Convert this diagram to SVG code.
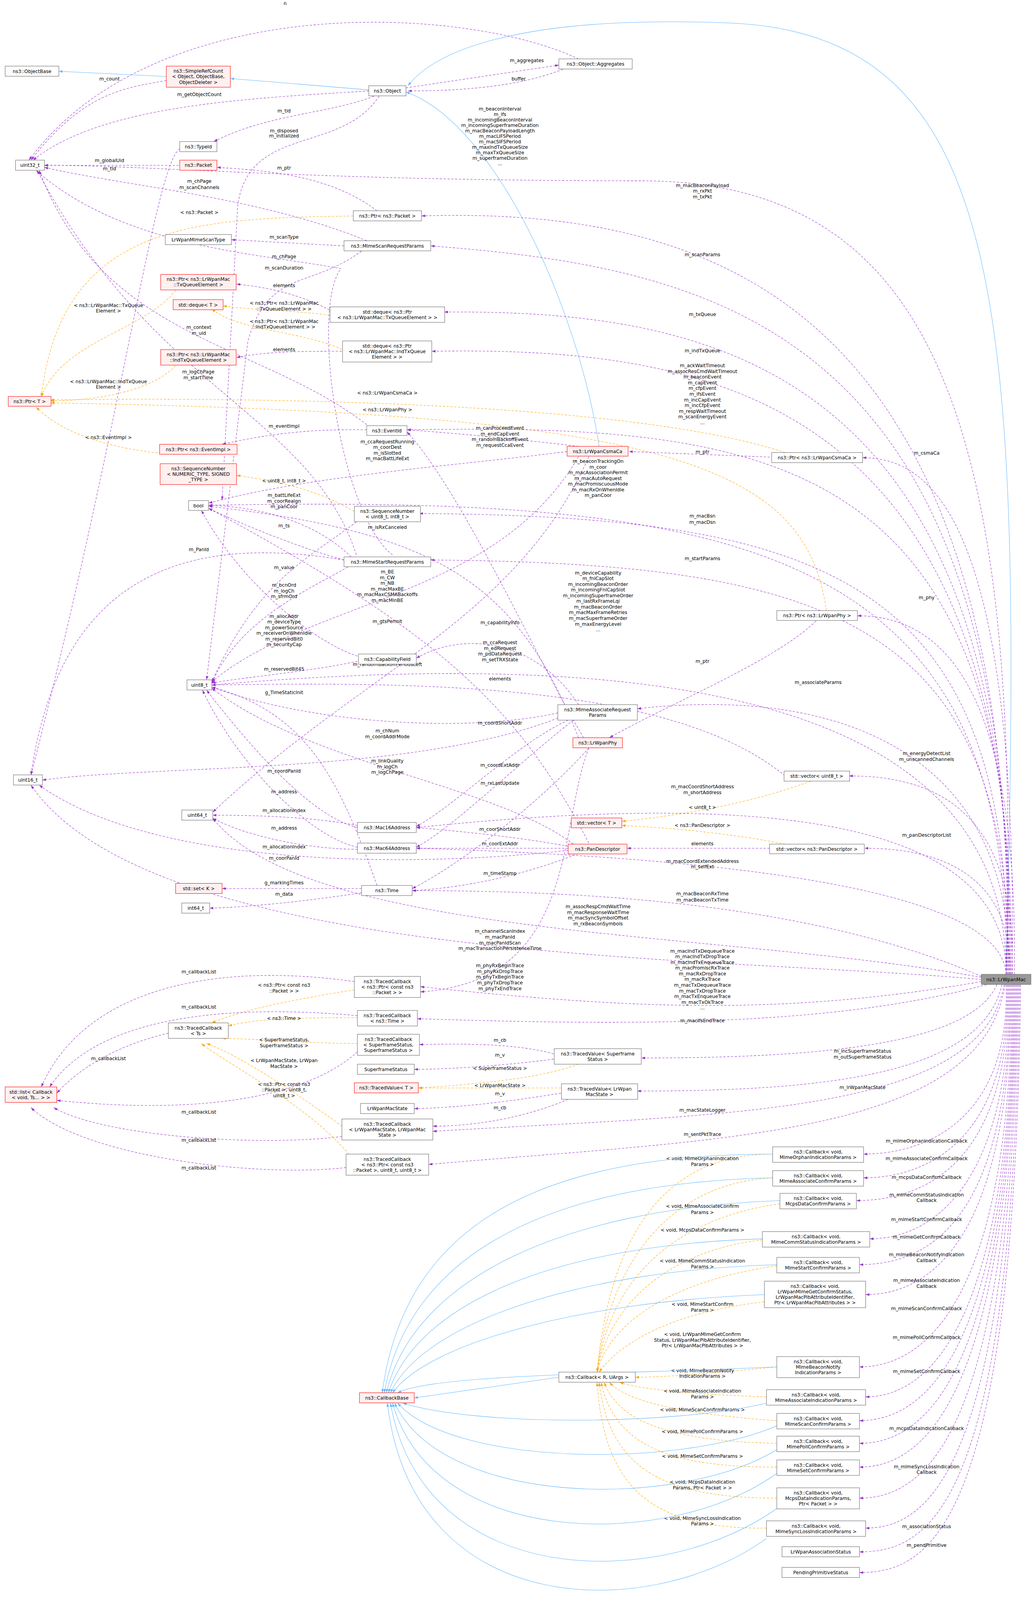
<svg xmlns="http://www.w3.org/2000/svg" width="2645" height="4147" viewBox="0 0 2645 4147">
<style>
text{font-family:"DejaVu Sans","Liberation Sans",sans-serif;font-size:4.6px;fill:#000}
.nt{text-anchor:middle}
.l{text-anchor:middle}
rect.n{fill:#fff;stroke:#666;stroke-width:0.4}
rect.r{fill:#fff0f0;stroke:#f00;stroke-width:0.4}
rect.g{fill:#999;stroke:#666;stroke-width:0.4}
path.e{fill:none;stroke:#9a32cd;stroke-width:0.4;stroke-dasharray:2.2,1.5;marker-end:url(#mp)}
path.o{fill:none;stroke:#ffa500;stroke-width:0.4;stroke-dasharray:2.2,1.5;marker-end:url(#mo)}
path.b{fill:none;stroke:#63b8ff;stroke-width:0.4;marker-end:url(#mb)}
</style>
<defs>
<marker id="mp" viewBox="0 0 10 7" refX="10" refY="3.5" markerWidth="3.6" markerHeight="2.6" markerUnits="userSpaceOnUse" orient="auto"><path d="M0,0L10,3.5L0,7z" fill="#9a32cd"/></marker>
<marker id="mo" viewBox="0 0 10 7" refX="10" refY="3.5" markerWidth="3.6" markerHeight="2.6" markerUnits="userSpaceOnUse" orient="auto"><path d="M0,0L10,3.5L0,7z" fill="#ffa500"/></marker>
<marker id="mb" viewBox="0 0 10 7" refX="10" refY="3.5" markerWidth="3.6" markerHeight="2.6" markerUnits="userSpaceOnUse" orient="auto"><path d="M0,0L10,3.5L0,7z" fill="#63b8ff"/></marker>
</defs>
<rect width="2645" height="4147" fill="#fff"/>
<g transform="scale(2.645)">
<g id="edges">
<path class="b" d="M161,74 L57,69"/>
<path class="b" d="M357,87 L223,76"/>
<path class="b" d="M974,943 C990,300 980,30 700,22 C500,15 420,50 395,83"/>
<path class="b" d="M580,432 C560,300 480,120 393,89"/>
<path class="e" d="M393,85 L541,63"/><text class="l" x="510" y="60">m_aggregates</text>
<path class="e" d="M545,67 C500,85 440,88 395,88"/><text class="l" x="502" y="78">buffer</text>
<path class="e" d="M560,57 C450,5 150,-10 28,155"/><text class="l" x="276" y="5">n</text>
<path class="e" d="M161,78 C120,85 80,90 30,155"/><text class="l" x="106" y="78">m_count</text>
<path class="e" d="M357,88 C250,95 100,100 32,155"/><text class="l" x="193" y="93">m_getObjectCount</text>
<path class="e" d="M362,93 C320,110 260,110 207,137"/><text class="l" x="275" y="109">m_tid</text>
<path class="e" d="M367,93 C330,150 240,120 230,200 L215,484"/><text class="l" x="275" y="128">m_disposed</text><text class="l" x="275" y="133">m_initialized</text>
<path class="e" d="M173,160 L43,160"/><text class="l" x="106" y="157">m_globalUid</text>
<path class="e" d="M174,144 C150,160 120,400 30,750"/><text class="l" x="106" y="165">m_tid</text>
<path class="e" d="M365,204 C320,170 260,165 210,162"/><text class="l" x="275" y="164">m_ptr</text>
<path class="o" d="M342,209 C200,212 60,210 40,384"/><text class="l" x="193" y="207">&lt; ns3::Packet &gt;</text>
<path class="e" d="M355,233 C250,190 120,180 43,162"/><text class="l" x="193" y="177">m_chPage</text><text class="l" x="193" y="183">m_scanChannels</text>
<path class="e" d="M333,238 L224,232"/><text class="l" x="275" y="231">m_scanType</text>
<path class="e" d="M350,243 C300,280 260,260 240,330 L200,658"/><text class="l" x="275" y="261">m_scanDuration</text>
<path class="e" d="M380,537 C330,500 300,300 330,260 C250,245 120,240 35,165"/><text class="l" x="275" y="250">m_chPage</text>
<path class="o" d="M170,281 C140,320 60,330 40,384"/><text class="l" x="105" y="297">&lt; ns3::LrWpanMac::TxQueue</text><text class="l" x="105" y="302.6">Element &gt;</text>
<path class="e" d="M319,300 C290,285 260,278 229,275"/><text class="l" x="275" y="278">elements</text>
<path class="o" d="M319,305 C280,300 240,300 216,296"/><text class="l" x="275" y="295">&lt; ns3::Ptr&lt; ns3::LrWpanMac</text><text class="l" x="275" y="300.6">::TxQueueElement &gt; &gt;</text>
<path class="e" d="M331,340 C290,340 260,340 229,346"/><text class="l" x="275" y="340">elements</text>
<path class="o" d="M331,338 C290,320 230,320 205,299"/><text class="l" x="275" y="312.5">&lt; ns3::Ptr&lt; ns3::LrWpanMac</text><text class="l" x="275" y="318">::IndTxQueueElement &gt; &gt;</text>
<path class="o" d="M170,354 C140,385 70,388 49,388"/><text class="l" x="105" y="370.7">&lt; ns3::LrWpanMac::IndTxQueue</text><text class="l" x="105" y="376.3">Element &gt;</text>
<path class="o" d="M160,439 C110,435 60,420 35,394"/><text class="l" x="105" y="425">&lt; ns3::EventImpl &gt;</text>
<path class="o" d="M760,438 C600,385 200,385 49,387"/><text class="l" x="375" y="382">&lt; ns3::LrWpanCsmaCa &gt;</text>
<path class="o" d="M800,591 C780,450 650,400 49,390"/><text class="l" x="375" y="398">&lt; ns3::LrWpanPhy &gt;</text>
<path class="e" d="M355,416 C300,415 260,420 215,430"/><text class="l" x="275" y="414">m_eventImpl</text>
<path class="e" d="M355,411 C250,330 100,330 38,165"/><text class="l" x="192.5" y="318.5">m_context</text><text class="l" x="192.5" y="324">m_uid</text>
<path class="e" d="M760,443 L609,437"/><text class="l" x="680" y="439">m_ptr</text>
<path class="e" d="M560,432 C500,425 450,420 394,416"/><text class="l" x="484" y="416">m_canProceedEvent</text><text class="l" x="484" y="421.5">m_endCapEvent</text><text class="l" x="484" y="427">m_randomBackoffEvent</text><text class="l" x="484" y="432.5">m_requestCcaEvent</text>
<path class="e" d="M549,437 C450,450 300,460 202,487"/><text class="l" x="375" y="429">m_ccaRequestRunning</text><text class="l" x="375" y="434.5">m_coorDest</text><text class="l" x="375" y="440">m_isSlotted</text><text class="l" x="375" y="445.5">m_macBattLifeExt</text>
<path class="e" d="M560,442 C480,580 300,580 205,660"/><text class="l" x="375" y="555">m_BE</text><text class="l" x="375" y="560.5">m_CW</text><text class="l" x="375" y="566">m_NB</text><text class="l" x="375" y="571.5">m_macMaxBE</text><text class="l" x="375" y="577">m_macMaxCSMABackoffs</text><text class="l" x="375" y="582.5">m_macMinBE</text>
<path class="e" d="M570,442 C500,600 350,650 206,786"/><text class="l" x="375" y="644.5">m_randomBackoffPeriodsLeft</text>
<path class="o" d="M343,495 C300,470 260,465 229,460"/><text class="l" x="275" y="467">&lt; uint8_t, int8_t &gt;</text>
<path class="e" d="M345,505 C300,540 250,560 205,660"/><text class="l" x="275" y="551">m_value</text>
<path class="e" d="M340,539 C300,500 240,490 202,489"/><text class="l" x="275" y="481">m_battLifeExt</text><text class="l" x="275" y="486.5">m_coorRealgn</text><text class="l" x="275" y="492">m_panCoor</text>
<path class="e" d="M340,547 C300,570 230,600 205,662"/><text class="l" x="275" y="568">m_bcnOrd</text><text class="l" x="275" y="573.5">m_logCh</text><text class="l" x="275" y="579">m_sfrmOrd</text>
<path class="e" d="M333,542 C200,520 60,540 30,750"/><text class="l" x="192.5" y="533.5">m_PanId</text>
<path class="e" d="M345,537 C300,400 150,380 36,165"/><text class="l" x="192" y="361.5">m_logChPage</text><text class="l" x="192" y="367">m_startTime</text>
<path class="e" d="M333,542 C290,530 240,510 202,492"/><text class="l" x="275" y="510.5">m_ts</text>
<path class="e" d="M560,714 C500,560 420,515 202,490"/><text class="l" x="375" y="512">m_isRxCanceled</text>
<path class="e" d="M570,816 C500,680 420,610 202,492"/><text class="l" x="375" y="603">m_gtsPermit</text>
<path class="e" d="M346,635 C300,620 230,560 195,494"/><text class="l" x="275" y="598">m_allocAddr</text><text class="l" x="275" y="603.5">m_deviceType</text><text class="l" x="275" y="609">m_powerSource</text><text class="l" x="275" y="614.5">m_receiverOnWhenIdle</text><text class="l" x="275" y="620">m_reservedBit0</text><text class="l" x="275" y="625.5">m_securityCap</text>
<path class="e" d="M346,640 C300,650 240,655 205,661"/><text class="l" x="275" y="649">m_reservedBit45</text>
<path class="e" d="M365,857 C330,760 300,690 205,665"/><text class="l" x="275" y="672">g_TimeStaticInit</text>
<path class="e" d="M560,682 C520,620 450,610 403,637"/><text class="l" x="484" y="604">m_capabilityInfo</text>
<path class="e" d="M565,714 C520,640 450,480 394,418"/><text class="l" x="484" y="623.5">m_ccaRequest</text><text class="l" x="484" y="629">m_edRequest</text><text class="l" x="484" y="634.5">m_pdDataRequest</text><text class="l" x="484" y="640">m_setTRXState</text>
<path class="e" d="M760,751 C650,660 400,660 205,663"/><text class="l" x="484" y="658.5">elements</text>
<path class="e" d="M540,690 C450,710 300,700 205,665"/><text class="l" x="375" y="709">m_chNum</text><text class="l" x="375" y="714.5">m_coordAddrMode</text>
<path class="e" d="M555,817 C480,760 300,740 205,666"/><text class="l" x="375" y="738">m_linkQuality</text><text class="l" x="375" y="743.5">m_logCh</text><text class="l" x="375" y="749">m_logChPage</text>
<path class="e" d="M550,697 C500,720 440,780 403,800"/><text class="l" x="484" y="701.5">m_coordShortAddr</text>
<path class="e" d="M555,697 C500,740 440,800 403,820"/><text class="l" x="484" y="742">m_coordExtAddr</text>
<path class="e" d="M570,724 C520,780 440,840 399,860"/><text class="l" x="484" y="759.5">m_rxLastUpdate</text>
<path class="e" d="M540,695 C400,750 150,740 41,755"/><text class="l" x="275" y="748">m_coordPanId</text>
<path class="e" d="M790,601 C750,640 650,680 590,714"/><text class="l" x="680" y="641.5">m_ptr</text>
<path class="o" d="M785,756 C720,780 650,790 602,795"/><text class="l" x="680" y="783">&lt; uint8_t &gt;</text>
<path class="o" d="M760,817 C700,805 630,800 602,799"/><text class="l" x="680" y="800.5">&lt; ns3::PanDescriptor &gt;</text>
<path class="e" d="M745,821 L607,821"/><text class="l" x="680" y="818">elements</text>
<path class="e" d="M346,801 C300,790 240,720 200,668"/><text class="l" x="275" y="768">m_address</text>
<path class="e" d="M346,799 C300,790 240,789 206,789"/><text class="l" x="275" y="786">m_allocationIndex</text>
<path class="e" d="M346,820 C300,810 230,740 196,668"/><text class="l" x="275" y="803">m_address</text>
<path class="e" d="M346,822 C300,822 240,810 206,792"/><text class="l" x="275" y="821">m_allocationIndex</text>
<path class="e" d="M550,819 C500,810 450,805 403,801"/><text class="l" x="484" y="804">m_coorShortAddr</text>
<path class="e" d="M550,821 L403,821"/><text class="l" x="484" y="818">m_coorExtAddr</text>
<path class="e" d="M550,823 C400,840 150,840 38,760"/><text class="l" x="275" y="832">m_coorPanId</text>
<path class="e" d="M560,826 C500,850 440,860 399,862"/><text class="l" x="484" y="847">m_timeStamp</text>
<path class="e" d="M350,860 L215,860"/><text class="l" x="275" y="856">g_markingTimes</text>
<path class="e" d="M350,864 C300,872 240,878 203,879"/><text class="l" x="275" y="867">m_data</text>
<path class="e" d="M974,943 C990,400 900,175 620,175 C300,175 150,160 43,160"/><text class="l" x="484" y="107">m_beaconInterval</text><text class="l" x="484" y="112.3">m_ifs</text><text class="l" x="484" y="117.6">m_incomingBeaconInterval</text><text class="l" x="484" y="122.9">m_incomingSuperframeDuration</text><text class="l" x="484" y="128.2">m_macBeaconPayloadLength</text><text class="l" x="484" y="133.5">m_macLIFSPeriod</text><text class="l" x="484" y="138.8">m_macSIFSPeriod</text><text class="l" x="484" y="144.1">m_maxIndTxQueueSize</text><text class="l" x="484" y="149.4">m_maxTxQueueSize</text><text class="l" x="484" y="154.7">m_superframeDuration</text><text class="l" x="484" y="160">...</text>
<path class="e" d="M975,943 C985,300 700,200 408,209"/><text class="l" x="680" y="181">m_macBeaconPayload</text><text class="l" x="680" y="186.5">m_rxPkt</text><text class="l" x="680" y="192">m_txPkt</text>
<path class="e" d="M976,943 C985,320 700,260 417,238"/><text class="l" x="680" y="248">m_scanParams</text>
<path class="e" d="M977,943 C985,360 700,300 430,302"/><text class="l" x="680" y="306">m_txQueue</text>
<path class="e" d="M978,943 C985,390 700,335 418,340"/><text class="l" x="680" y="341">m_indTxQueue</text>
<path class="e" d="M979,943 C985,440 750,410 394,416"/><text class="l" x="680" y="355.5">m_ackWaitTimeout</text><text class="l" x="680" y="361">m_assocResCmdWaitTimeout</text><text class="l" x="680" y="366.5">m_beaconEvent</text><text class="l" x="680" y="372">m_capEvent</text><text class="l" x="680" y="377.5">m_cfpEvent</text><text class="l" x="680" y="383">m_ifsEvent</text><text class="l" x="680" y="388.5">m_incCapEvent</text><text class="l" x="680" y="394">m_incCfpEvent</text><text class="l" x="680" y="399.5">m_respWaitTimeout</text><text class="l" x="680" y="405">m_scanEnergyEvent</text><text class="l" x="680" y="410.5">...</text>
<path class="e" d="M980,943 C985,500 900,443 835,443"/><text class="l" x="897" y="440">m_csmaCa</text>
<path class="e" d="M974,943 C980,520 700,480 202,489"/><text class="l" x="579" y="448">m_beaconTrackingOn</text><text class="l" x="579" y="453.5">m_coor</text><text class="l" x="579" y="459">m_macAssociationPermit</text><text class="l" x="579" y="464.5">m_macAutoRequest</text><text class="l" x="579" y="470">m_macPromiscuousMode</text><text class="l" x="579" y="475.5">m_macRxOnWhenIdle</text><text class="l" x="579" y="481">m_panCoor</text>
<path class="e" d="M975,943 C980,560 800,500 406,497"/><text class="l" x="680" y="501">m_macBsn</text><text class="l" x="680" y="507">m_macDsn</text>
<path class="e" d="M976,943 C980,600 800,545 417,542"/><text class="l" x="680" y="542">m_startParams</text>
<path class="e" d="M982,943 C985,700 930,596 830,596"/><text class="l" x="897" y="580">m_phy</text>
<path class="e" d="M974,943 C975,700 700,620 205,663"/><text class="l" x="579" y="556">m_deviceCapability</text><text class="l" x="579" y="561.5">m_fnlCapSlot</text><text class="l" x="579" y="567">m_incomingBeaconOrder</text><text class="l" x="579" y="572.5">m_incomingFnlCapSlot</text><text class="l" x="579" y="578">m_incomingSuperframeOrder</text><text class="l" x="579" y="583.5">m_lastRxFrameLqi</text><text class="l" x="579" y="589">m_macBeaconOrder</text><text class="l" x="579" y="594.5">m_macMaxFrameRetries</text><text class="l" x="579" y="600">m_macSuperframeOrder</text><text class="l" x="579" y="605.5">m_maxEnergyLevel</text><text class="l" x="579" y="611">...</text>
<path class="e" d="M977,943 C980,720 800,665 617,686"/><text class="l" x="792" y="662">m_associateParams</text>
<path class="e" d="M980,943 C985,780 900,751 822,751"/><text class="l" x="897" y="730.7">m_energyDetectList</text><text class="l" x="897" y="736.3">m_unscannedChannels</text>
<path class="e" d="M974,943 C975,780 700,770 403,801"/><text class="l" x="680" y="763">m_macCoordShortAddress</text><text class="l" x="680" y="768.6">m_shortAddress</text>
<path class="e" d="M978,943 C980,840 900,821 837,821"/><text class="l" x="897" y="810">m_panDescriptorList</text>
<path class="e" d="M974,943 C970,860 700,830 403,821"/><text class="l" x="680" y="835">m_macCoordExtendedAddress</text><text class="l" x="680" y="840.5">m_selfExt</text>
<path class="e" d="M950,945 C800,880 600,862 399,862"/><text class="l" x="680" y="866.7">m_macBeaconRxTime</text><text class="l" x="680" y="872.5">m_macBeaconTxTime</text>
<path class="e" d="M950,946 C700,900 300,910 206,792"/><text class="l" x="579" y="879">m_assocRespCmdWaitTime</text><text class="l" x="579" y="884.5">m_macResponseWaitTime</text><text class="l" x="579" y="890">m_macSyncSymbolOffset</text><text class="l" x="579" y="895.5">m_rxBeaconSymbols</text>
<path class="e" d="M950,948 C700,925 150,935 30,760"/><text class="l" x="484" y="903">m_channelScanIndex</text><text class="l" x="484" y="908.5">m_macPanId</text><text class="l" x="484" y="914">m_macPanIdScan</text><text class="l" x="484" y="919.5">m_macTransactionPersistenceTime</text>
<path class="e" d="M570,724 C540,800 560,950 407,960"/><text class="l" x="484" y="936">m_phyRxBeginTrace</text><text class="l" x="484" y="941.6">m_phyRxDropTrace</text><text class="l" x="484" y="947.2">m_phyTxBeginTrace</text><text class="l" x="484" y="952.8">m_phyTxDropTrace</text><text class="l" x="484" y="958.4">m_phyTxEndTrace</text>
<path class="e" d="M950,950 C750,985 600,975 407,955"/><text class="l" x="680" y="922">m_macIndTxDequeueTrace</text><text class="l" x="680" y="927.5">m_macIndTxDropTrace</text><text class="l" x="680" y="933">m_macIndTxEnqueueTrace</text><text class="l" x="680" y="938.5">m_macPromiscRxTrace</text><text class="l" x="680" y="944">m_macRxDropTrace</text><text class="l" x="680" y="949.5">m_macRxTrace</text><text class="l" x="680" y="955">m_macTxDequeueTrace</text><text class="l" x="680" y="960.5">m_macTxDropTrace</text><text class="l" x="680" y="966">m_macTxEnqueueTrace</text><text class="l" x="680" y="971.5">m_macTxOkTrace</text><text class="l" x="680" y="977">...</text>
<path class="e" d="M955,953 C800,995 600,992 404,986"/><text class="l" x="680" y="989.5">m_macIfsEndTrace</text>
<path class="e" d="M965,953 C940,1010 800,1024 621,1024"/><text class="l" x="835" y="1019">m_incSuperframeStatus</text><text class="l" x="835" y="1024.5">m_outSuperframeStatus</text>
<path class="e" d="M970,953 C950,1040 800,1056 617,1056"/><text class="l" x="835" y="1054">m_lrWpanMacState</text>
<path class="e" d="M972,953 C950,1080 700,1078 419,1095"/><text class="l" x="680" y="1076">m_macStateLogger</text>
<path class="e" d="M973,953 C950,1100 700,1102 415,1127"/><text class="l" x="680" y="1099.5">m_sentPktTrace</text>
<path class="e" d="M974,953 C978,1080 900,1117 836,1117"/><text class="l" x="897" y="1106">m_mlmeOrphanIndicationCallback</text>
<path class="e" d="M975,953 C978,1100 900,1140 836,1140"/><text class="l" x="897" y="1123">m_mlmeAssociateConfirmCallback</text>
<path class="e" d="M976,953 C978,1120 900,1162 829,1162"/><text class="l" x="897" y="1141">m_mcpsDataConfirmCallback</text>
<path class="e" d="M977,953 C978,1150 900,1199 842,1199"/><text class="l" x="897" y="1158">m_mlmeCommStatusIndication</text><text class="l" x="897" y="1163.5">Callback</text>
<path class="e" d="M978,953 C978,1180 900,1224 832,1224"/><text class="l" x="897" y="1182">m_mlmeStartConfirmCallback</text>
<path class="e" d="M979,953 C978,1200 900,1253 838,1253"/><text class="l" x="897" y="1199">m_mlmeGetConfirmCallback</text>
<path class="e" d="M980,953 C978,1250 900,1323 832,1323"/><text class="l" x="897" y="1216">m_mlmeBeaconNotifyIndication</text><text class="l" x="897" y="1221.5">Callback</text>
<path class="e" d="M981,953 C978,1280 900,1352 838,1352"/><text class="l" x="897" y="1241">m_mlmeAssociateIndication</text><text class="l" x="897" y="1246.5">Callback</text>
<path class="e" d="M982,953 C978,1300 900,1375 832,1375"/><text class="l" x="897" y="1268">m_mlmeScanConfirmCallback</text>
<path class="e" d="M983,953 C978,1320 900,1397 832,1397"/><text class="l" x="897" y="1296">m_mlmePollConfirmCallback</text>
<path class="e" d="M984,953 C978,1340 900,1420 832,1420"/><text class="l" x="897" y="1329">m_mlmeSetConfirmCallback</text>
<path class="e" d="M985,953 C978,1380 900,1450 832,1450"/><text class="l" x="897" y="1384">m_mcpsDataIndicationCallback</text>
<path class="e" d="M986,953 C978,1420 900,1479 838,1479"/><text class="l" x="897" y="1421">m_mlmeSyncLossIndication</text><text class="l" x="897" y="1426.5">Callback</text>
<path class="e" d="M987,953 C980,1460 900,1502 832,1502"/><text class="l" x="897" y="1479">m_associationStatus</text>
<path class="e" d="M988,953 C982,1480 900,1522 832,1522"/><text class="l" x="897" y="1497">m_pendPrimitive</text>
<path class="o" d="M343,958 C300,965 240,975 205,990"/><text class="l" x="275" y="955">&lt; ns3::Ptr&lt; const ns3</text><text class="l" x="275" y="960.5">::Packet &gt; &gt;</text>
<path class="e" d="M343,950 C200,930 80,960 40,1052"/><text class="l" x="192.5" y="942">m_callbackList</text>
<path class="o" d="M346,985 C300,985 250,985 221,993"/><text class="l" x="275" y="987">&lt; ns3::Time &gt;</text>
<path class="e" d="M346,983 C200,970 90,990 48,1052"/><text class="l" x="192.5" y="976">m_callbackList</text>
<path class="e" d="M163,1000 C120,1010 80,1030 55,1058"/><text class="l" x="105" y="1026">m_callbackList</text>
<path class="o" d="M346,1010 C300,1010 240,1005 215,1005"/><text class="l" x="275" y="1008">&lt; SuperframeStatus,</text><text class="l" x="275" y="1013.5">SuperframeStatus &gt;</text>
<path class="e" d="M346,1018 C300,1060 200,1080 55,1065"/><text class="l" x="192.5" y="1078">m_callbackList</text>
<path class="e" d="M536,1020 C500,1010 450,1010 406,1011"/><text class="l" x="484" y="1008.5">m_cb</text>
<path class="e" d="M536,1025 C500,1030 440,1035 401,1035"/><text class="l" x="484" y="1022.6">m_v</text>
<path class="o" d="M560,1030 C520,1045 450,1050 405,1053"/><text class="l" x="484" y="1035.7">&lt; SuperframeStatus &gt;</text>
<path class="o" d="M543,1053 C500,1053 450,1053 405,1053"/><text class="l" x="484" y="1052.2">&lt; LrWpanMacState &gt;</text>
<path class="e" d="M543,1058 C500,1065 450,1072 401,1073"/><text class="l" x="484" y="1060.3">m_v</text>
<path class="e" d="M550,1064 C500,1085 450,1090 419,1090"/><text class="l" x="484" y="1073.8">m_cb</text>
<path class="o" d="M331,1090 C290,1060 230,1020 200,1010"/><text class="l" x="275" y="1028">&lt; LrWpanMacState, LrWpan</text><text class="l" x="275" y="1033.5">MacState &gt;</text>
<path class="e" d="M331,1100 C250,1110 100,1100 52,1072"/><text class="l" x="192.5" y="1105">m_callbackList</text>
<path class="o" d="M340,1120 C300,1070 220,1030 195,1010"/><text class="l" x="275" y="1051">&lt; ns3::Ptr&lt; const ns3</text><text class="l" x="275" y="1056.5">::Packet &gt;, uint8_t,</text><text class="l" x="275" y="1062">uint8_t &gt;</text>
<path class="e" d="M335,1130 C250,1140 80,1120 30,1072"/><text class="l" x="192.5" y="1132">m_callbackList</text>
<path class="o" d="M748,1117 C640,1117 590,1200 578,1328"/><text class="l" x="680" y="1123">&lt; void, MlmeOrphanIndication</text><text class="l" x="680" y="1128.5">Params &gt;</text>
<path class="o" d="M748,1140 C650,1145 590,1220 578,1328"/><text class="l" x="680" y="1169">&lt; void, MlmeAssociateConfirm</text><text class="l" x="680" y="1175">Params &gt;</text>
<path class="o" d="M755,1165 C650,1180 590,1240 578,1328"/><text class="l" x="680" y="1192">&lt; void, McpsDataConfirmParams &gt;</text>
<path class="o" d="M738,1200 C650,1210 590,1260 578,1328"/><text class="l" x="680" y="1222">&lt; void, MlmeCommStatusIndication</text><text class="l" x="680" y="1227.7">Params &gt;</text>
<path class="o" d="M752,1225 C650,1240 590,1280 578,1328"/><text class="l" x="680" y="1264">&lt; void, MlmeStartConfirm</text><text class="l" x="680" y="1269.5">Params &gt;</text>
<path class="o" d="M740,1260 C650,1270 600,1300 580,1328"/><text class="l" x="680" y="1293">&lt; void, LrWpanMlmeGetConfirm</text><text class="l" x="680" y="1298.5">Status, LrWpanMacPibAttributeIdentifier,</text><text class="l" x="680" y="1304">Ptr&lt; LrWpanMacPibAttributes &gt; &gt;</text>
<path class="o" d="M752,1323 C680,1330 640,1333 615,1333"/><text class="l" x="680" y="1328">&lt; void, MlmeBeaconNotify</text><text class="l" x="680" y="1333.5">IndicationParams &gt;</text>
<path class="o" d="M742,1352 C680,1350 620,1345 600,1338"/><text class="l" x="680" y="1348">&lt; void, MlmeAssociateIndication</text><text class="l" x="680" y="1353.5">Params &gt;</text>
<path class="o" d="M752,1375 C680,1370 610,1360 590,1338"/><text class="l" x="680" y="1366">&lt; void, MlmeScanConfirmParams &gt;</text>
<path class="o" d="M752,1397 C660,1395 600,1380 585,1338"/><text class="l" x="680" y="1387">&lt; void, MlmePollConfirmParams &gt;</text>
<path class="o" d="M752,1420 C650,1420 595,1400 582,1338"/><text class="l" x="680" y="1411">&lt; void, MlmeSetConfirmParams &gt;</text>
<path class="o" d="M752,1450 C640,1450 590,1420 580,1338"/><text class="l" x="680" y="1436">&lt; void, McpsDataIndication</text><text class="l" x="680" y="1441.5">Params, Ptr&lt; Packet &gt; &gt;</text>
<path class="o" d="M742,1479 C630,1480 585,1440 578,1338"/><text class="l" x="680" y="1471">&lt; void, MlmeSyncLossIndication</text><text class="l" x="680" y="1476.5">Params &gt;</text>
<path class="b" d="M541,1333 L401,1353"/>
<path class="b" d="M748,1117 C500,1117 390,1200 370,1348"/>
<path class="b" d="M748,1140 C520,1145 395,1220 372,1348"/>
<path class="b" d="M755,1162 C540,1170 400,1240 374,1348"/>
<path class="b" d="M738,1199 C540,1205 405,1260 376,1348"/>
<path class="b" d="M752,1224 C560,1230 410,1280 378,1348"/>
<path class="b" d="M740,1253 C560,1260 415,1300 380,1348"/>
<path class="b" d="M752,1323 C600,1330 420,1330 385,1348"/>
<path class="b" d="M742,1358 C650,1380 460,1380 390,1358"/>
<path class="b" d="M752,1380 C660,1420 440,1420 385,1358"/>
<path class="b" d="M752,1403 C660,1460 430,1460 382,1358"/>
<path class="b" d="M752,1426 C650,1500 420,1500 380,1358"/>
<path class="b" d="M752,1460 C640,1540 410,1540 378,1358"/>
<path class="b" d="M742,1489 C630,1570 400,1570 375,1358"/>
</g>
<g id="nodes">
<g id="ObjectBase"><rect class="n" x="5" y="64" width="52" height="9.8"/><text class="nt" x="31" y="70.6">ns3::ObjectBase</text></g>
<g id="SimpleRefCount"><rect class="r" x="161" y="64" width="62" height="20.4"/><text class="nt" x="192" y="70.5">ns3::SimpleRefCount</text><text class="nt" x="192" y="75.8">&lt; Object, ObjectBase,</text><text class="nt" x="192" y="81.1">ObjectDeleter &gt;</text></g>
<g id="Object"><rect class="n" x="357" y="83" width="36" height="9.8"/><text class="nt" x="375" y="89.6">ns3::Object</text></g>
<g id="Aggregates"><rect class="n" x="541" y="57" width="71" height="9.8"/><text class="nt" x="576.5" y="63.6">ns3::Object::Aggregates</text></g>
<g id="uint32"><rect class="n" x="15" y="155" width="28" height="9.8"/><text class="nt" x="29" y="161.6">uint32_t</text></g>
<g id="TypeId"><rect class="n" x="174" y="137" width="36" height="9.8"/><text class="nt" x="192" y="143.6">ns3::TypeId</text></g>
<g id="Packet"><rect class="r" x="174" y="155" width="36" height="9.8"/><text class="nt" x="192" y="161.6">ns3::Packet</text></g>
<g id="PtrPacket"><rect class="n" x="342" y="204" width="66" height="9.8"/><text class="nt" x="375" y="210.6">ns3::Ptr&lt; ns3::Packet &gt;</text></g>
<g id="ScanType"><rect class="n" x="160" y="227" width="64" height="9.8"/><text class="nt" x="192" y="233.6">LrWpanMlmeScanType</text></g>
<g id="ScanReq"><rect class="n" x="333" y="233" width="84" height="9.8"/><text class="nt" x="375" y="239.6">ns3::MlmeScanRequestParams</text></g>
<g id="PtrTxQ"><rect class="r" x="155.6" y="265.6" width="73" height="15"/><text class="nt" x="192" y="272">ns3::Ptr&lt; ns3::LrWpanMac</text><text class="nt" x="192" y="277.3">::TxQueueElement &gt;</text></g>
<g id="dequeT"><rect class="r" x="167.6" y="290" width="48.4" height="9.8"/><text class="nt" x="191.8" y="296.6">std::deque&lt; T &gt;</text></g>
<g id="dequeTx"><rect class="n" x="319.5" y="297" width="111" height="15"/><text class="nt" x="375" y="303.5">std::deque&lt; ns3::Ptr</text><text class="nt" x="375" y="308.8">&lt; ns3::LrWpanMac::TxQueueElement &gt; &gt;</text></g>
<g id="PtrIndTxQ"><rect class="r" x="155.6" y="338.4" width="73" height="15"/><text class="nt" x="192" y="344.8">ns3::Ptr&lt; ns3::LrWpanMac</text><text class="nt" x="192" y="350.1">::IndTxQueueElement &gt;</text></g>
<g id="dequeInd"><rect class="n" x="331.6" y="330" width="86.4" height="20.4"/><text class="nt" x="374.8" y="336.5">std::deque&lt; ns3::Ptr</text><text class="nt" x="374.8" y="341.8">&lt; ns3::LrWpanMac::IndTxQueue</text><text class="nt" x="374.8" y="347.1">Element &gt; &gt;</text></g>
<g id="PtrT"><rect class="r" x="8" y="383.7" width="41.4" height="9.5"/><text class="nt" x="28.7" y="390.2">ns3::Ptr&lt; T &gt;</text></g>
<g id="EventId"><rect class="n" x="355" y="412" width="39" height="9.5"/><text class="nt" x="374.5" y="418.5">ns3::EventId</text></g>
<g id="PtrEventImpl"><rect class="r" x="154.5" y="430" width="75" height="9.7"/><text class="nt" x="192" y="436.6">ns3::Ptr&lt; ns3::EventImpl &gt;</text></g>
<g id="SeqNumT"><rect class="r" x="155" y="448.8" width="74" height="20.2"/><text class="nt" x="192" y="455.2">ns3::SequenceNumber</text><text class="nt" x="192" y="460.5">&lt; NUMERIC_TYPE, SIGNED</text><text class="nt" x="192" y="465.8">_TYPE &gt;</text></g>
<g id="CsmaCa"><rect class="r" x="549" y="432" width="59" height="9.5"/><text class="nt" x="578.5" y="438.5">ns3::LrWpanCsmaCa</text></g>
<g id="PtrCsma"><rect class="n" x="747" y="438" width="88" height="9.8"/><text class="nt" x="791" y="444.6">ns3::Ptr&lt; ns3::LrWpanCsmaCa &gt;</text></g>
<g id="bool"><rect class="n" x="182.5" y="484.5" width="19.3" height="9.5"/><text class="nt" x="192.1" y="491">bool</text></g>
<g id="SeqNum8"><rect class="n" x="343" y="490" width="64" height="15"/><text class="nt" x="375" y="496.5">ns3::SequenceNumber</text><text class="nt" x="375" y="501.8">&lt; uint8_t, int8_t &gt;</text></g>
<g id="StartReq"><rect class="n" x="333" y="539" width="84" height="9.5"/><text class="nt" x="375" y="545.5">ns3::MlmeStartRequestParams</text></g>
<g id="PtrPhy"><rect class="n" x="752" y="591" width="78" height="9.5"/><text class="nt" x="791" y="597.5">ns3::Ptr&lt; ns3::LrWpanPhy &gt;</text></g>
<g id="Capability"><rect class="n" x="347" y="633" width="56" height="9.8"/><text class="nt" x="375" y="639.6">ns3::CapabilityField</text></g>
<g id="uint8"><rect class="n" x="181" y="658" width="24" height="9.8"/><text class="nt" x="193" y="664.6">uint8_t</text></g>
<g id="AssocReq"><rect class="n" x="540" y="682" width="77" height="15"/><text class="nt" x="578.5" y="688.5">ns3::MlmeAssociateRequest</text><text class="nt" x="578.5" y="693.8">Params</text></g>
<g id="Phy"><rect class="r" x="554.6" y="714" width="48" height="9.8"/><text class="nt" x="578.6" y="720.6">ns3::LrWpanPhy</text></g>
<g id="vecU8"><rect class="n" x="759" y="746.3" width="63.5" height="9.7"/><text class="nt" x="790.7" y="752.8">std::vector&lt; uint8_t &gt;</text></g>
<g id="uint16"><rect class="n" x="13" y="750" width="28" height="9.8"/><text class="nt" x="27" y="756.6">uint16_t</text></g>
<g id="vecT"><rect class="r" x="553" y="791.7" width="49" height="9.5"/><text class="nt" x="577.5" y="798.2">std::vector&lt; T &gt;</text></g>
<g id="uint64"><rect class="n" x="176" y="784" width="30" height="9.8"/><text class="nt" x="191" y="790.6">uint64_t</text></g>
<g id="Mac16"><rect class="n" x="346" y="796" width="57" height="9.8"/><text class="nt" x="374.5" y="802.6">ns3::Mac16Address</text></g>
<g id="Mac64"><rect class="n" x="346" y="816" width="57" height="9.8"/><text class="nt" x="374.5" y="822.6">ns3::Mac64Address</text></g>
<g id="PanDesc"><rect class="r" x="550" y="817" width="57" height="9.5"/><text class="nt" x="578.5" y="823.5">ns3::PanDescriptor</text></g>
<g id="vecPan"><rect class="n" x="745" y="817" width="91.7" height="9.3"/><text class="nt" x="790.8" y="823.4">std::vector&lt; ns3::PanDescriptor &gt;</text></g>
<g id="setK"><rect class="r" x="170" y="855" width="45" height="9.8"/><text class="nt" x="192.5" y="861.6">std::set&lt; K &gt;</text></g>
<g id="Time"><rect class="n" x="350" y="857" width="49" height="9.8"/><text class="nt" x="374.5" y="863.6">ns3::Time</text></g>
<g id="int64"><rect class="n" x="176" y="874" width="27" height="9.8"/><text class="nt" x="189.5" y="880.6">int64_t</text></g>
<g id="LrWpanMac"><rect class="g" x="950" y="943" width="48" height="9.8"/><text class="nt" x="974" y="949.6">ns3::LrWpanMac</text></g>
<g id="TCpkt"><rect class="n" x="343" y="945" width="64" height="20.4"/><text class="nt" x="375" y="951.5">ns3::TracedCallback</text><text class="nt" x="375" y="956.8">&lt; ns3::Ptr&lt; const ns3</text><text class="nt" x="375" y="962.1">::Packet &gt; &gt;</text></g>
<g id="TCtime"><rect class="n" x="346" y="978" width="58" height="15"/><text class="nt" x="375" y="984.5">ns3::TracedCallback</text><text class="nt" x="375" y="989.8">&lt; ns3::Time &gt;</text></g>
<g id="TCTs"><rect class="n" x="163" y="990" width="58" height="15"/><text class="nt" x="192" y="996.5">ns3::TracedCallback</text><text class="nt" x="192" y="1001.8">&lt; Ts &gt;</text></g>
<g id="TCsf"><rect class="n" x="346" y="1001" width="60" height="20.4"/><text class="nt" x="376" y="1007.5">ns3::TracedCallback</text><text class="nt" x="376" y="1012.8">&lt; SuperframeStatus,</text><text class="nt" x="376" y="1018.1">SuperframeStatus &gt;</text></g>
<g id="TVsf"><rect class="n" x="536.5" y="1015" width="84.3" height="15"/><text class="nt" x="578.6" y="1021.5">ns3::TracedValue&lt; Superframe</text><text class="nt" x="578.6" y="1026.8">Status &gt;</text></g>
<g id="SFS"><rect class="n" x="346" y="1030" width="55" height="9.8"/><text class="nt" x="373.5" y="1036.6">SuperframeStatus</text></g>
<g id="list"><rect class="r" x="5" y="1052" width="50" height="15"/><text class="nt" x="30" y="1058.5">std::list&lt; Callback</text><text class="nt" x="30" y="1063.8">&lt; void, Ts... &gt; &gt;</text></g>
<g id="TVT"><rect class="r" x="343" y="1048" width="62" height="9.8"/><text class="nt" x="374" y="1054.6">ns3::TracedValue&lt; T &gt;</text></g>
<g id="TVstate"><rect class="n" x="543.5" y="1049" width="73.8" height="15"/><text class="nt" x="580.4" y="1055.5">ns3::TracedValue&lt; LrWpan</text><text class="nt" x="580.4" y="1060.8">MacState &gt;</text></g>
<g id="State"><rect class="n" x="349" y="1068" width="52" height="9.8"/><text class="nt" x="375" y="1074.6">LrWpanMacState</text></g>
<g id="TCstate"><rect class="n" x="331" y="1083" width="88" height="20.4"/><text class="nt" x="375" y="1089.5">ns3::TracedCallback</text><text class="nt" x="375" y="1094.8">&lt; LrWpanMacState, LrWpanMac</text><text class="nt" x="375" y="1100.1">State &gt;</text></g>
<g id="TCpkt8"><rect class="n" x="335" y="1117" width="80" height="20.4"/><text class="nt" x="375" y="1123.5">ns3::TracedCallback</text><text class="nt" x="375" y="1128.8">&lt; ns3::Ptr&lt; const ns3</text><text class="nt" x="375" y="1134.1">::Packet &gt;, uint8_t, uint8_t &gt;</text></g>
<g id="cbOrphan"><rect class="n" x="748" y="1110" width="88" height="15"/><text class="nt" x="792" y="1116.5">ns3::Callback&lt; void,</text><text class="nt" x="792" y="1121.8">MlmeOrphanIndicationParams &gt;</text></g>
<g id="cbAssocConf"><rect class="n" x="748" y="1133" width="88" height="15"/><text class="nt" x="792" y="1139.5">ns3::Callback&lt; void,</text><text class="nt" x="792" y="1144.8">MlmeAssociateConfirmParams &gt;</text></g>
<g id="cbDataConf"><rect class="n" x="755" y="1155" width="74" height="15"/><text class="nt" x="792" y="1161.5">ns3::Callback&lt; void,</text><text class="nt" x="792" y="1166.8">McpsDataConfirmParams &gt;</text></g>
<g id="cbComm"><rect class="n" x="738" y="1192" width="104" height="15"/><text class="nt" x="790" y="1198.5">ns3::Callback&lt; void,</text><text class="nt" x="790" y="1203.8">MlmeCommStatusIndicationParams &gt;</text></g>
<g id="cbStart"><rect class="n" x="752" y="1217" width="80" height="15"/><text class="nt" x="792" y="1223.5">ns3::Callback&lt; void,</text><text class="nt" x="792" y="1228.8">MlmeStartConfirmParams &gt;</text></g>
<g id="cbGet"><rect class="n" x="740" y="1240" width="98" height="25.7"/><text class="nt" x="789" y="1246.5">ns3::Callback&lt; void,</text><text class="nt" x="789" y="1251.8">LrWpanMlmeGetConfirmStatus,</text><text class="nt" x="789" y="1257.1">LrWpanMacPibAttributeIdentifier,</text><text class="nt" x="789" y="1262.4">Ptr&lt; LrWpanMacPibAttributes &gt; &gt;</text></g>
<g id="cbBeacon"><rect class="n" x="752" y="1313" width="80" height="20.4"/><text class="nt" x="792" y="1319.5">ns3::Callback&lt; void,</text><text class="nt" x="792" y="1324.8">MlmeBeaconNotify</text><text class="nt" x="792" y="1330.1">IndicationParams &gt;</text></g>
<g id="cbAssocInd"><rect class="n" x="742" y="1345" width="96" height="15"/><text class="nt" x="790" y="1351.5">ns3::Callback&lt; void,</text><text class="nt" x="790" y="1356.8">MlmeAssociateIndicationParams &gt;</text></g>
<g id="cbScan"><rect class="n" x="752" y="1368" width="80" height="15"/><text class="nt" x="792" y="1374.5">ns3::Callback&lt; void,</text><text class="nt" x="792" y="1379.8">MlmeScanConfirmParams &gt;</text></g>
<g id="cbPoll"><rect class="n" x="752" y="1390" width="80" height="15"/><text class="nt" x="792" y="1396.5">ns3::Callback&lt; void,</text><text class="nt" x="792" y="1401.8">MlmePollConfirmParams &gt;</text></g>
<g id="cbSet"><rect class="n" x="752" y="1413" width="80" height="15"/><text class="nt" x="792" y="1419.5">ns3::Callback&lt; void,</text><text class="nt" x="792" y="1424.8">MlmeSetConfirmParams &gt;</text></g>
<g id="cbDataInd"><rect class="n" x="752" y="1440" width="80" height="20.4"/><text class="nt" x="792" y="1446.5">ns3::Callback&lt; void,</text><text class="nt" x="792" y="1451.8">McpsDataIndicationParams,</text><text class="nt" x="792" y="1457.1">Ptr&lt; Packet &gt; &gt;</text></g>
<g id="cbSync"><rect class="n" x="742" y="1472" width="96" height="15"/><text class="nt" x="790" y="1478.5">ns3::Callback&lt; void,</text><text class="nt" x="790" y="1483.8">MlmeSyncLossIndicationParams &gt;</text></g>
<g id="AssocStatus"><rect class="n" x="757" y="1497" width="75" height="9.8"/><text class="nt" x="794.5" y="1503.6">LrWpanAssociationStatus</text></g>
<g id="PendPrim"><rect class="n" x="757" y="1517" width="75" height="9.8"/><text class="nt" x="794.5" y="1523.6">PendingPrimitiveStatus</text></g>
<g id="CallbackRU"><rect class="n" x="541" y="1328" width="74" height="9.8"/><text class="nt" x="578" y="1334.6">ns3::Callback&lt; R, UArgs &gt;</text></g>
<g id="CallbackBase"><rect class="r" x="348" y="1348" width="53" height="9.8"/><text class="nt" x="374.5" y="1354.6">ns3::CallbackBase</text></g>
</g>
</g>
</svg>
